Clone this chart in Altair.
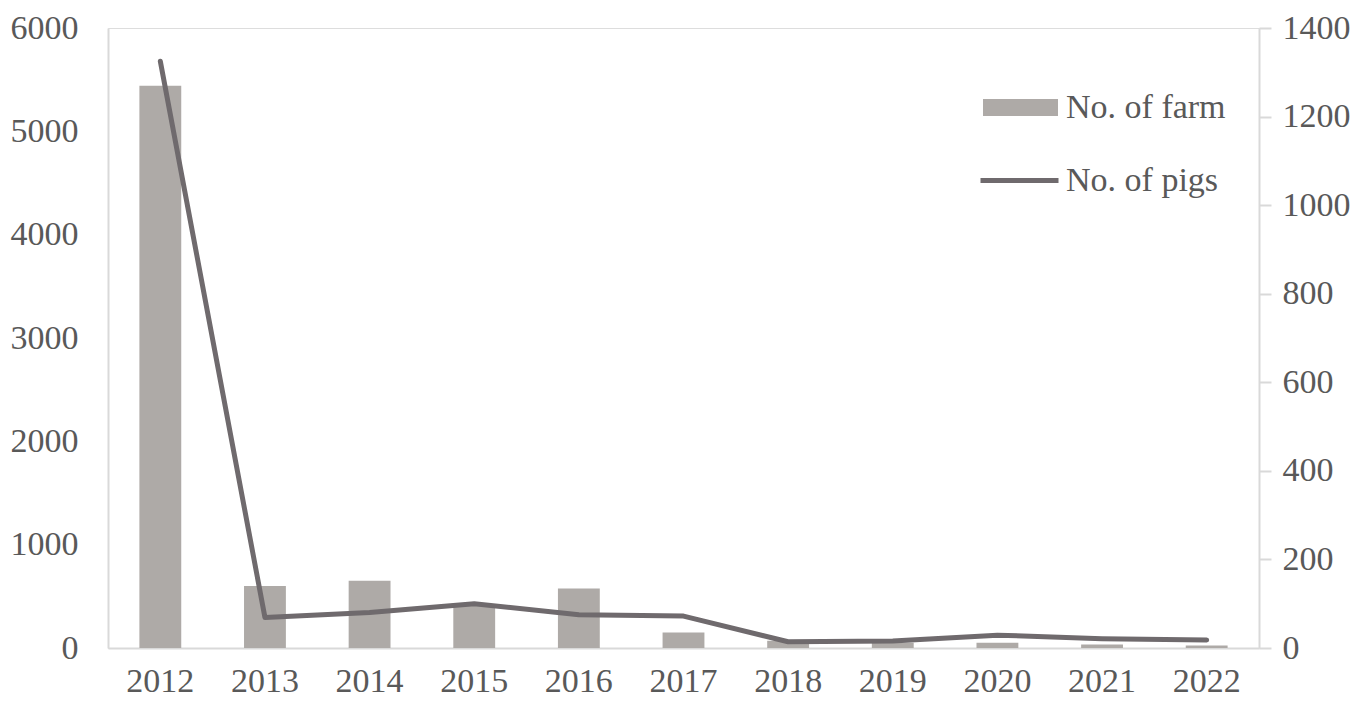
import altair as alt
import pandas as pd

years = ["2012", "2013", "2014", "2015", "2016", "2017", "2018", "2019", "2020", "2021", "2022"]
farms = [5440, 600, 650, 410, 575, 150, 70, 50, 50, 35, 25]
pigs = [1325, 69, 80, 100, 75, 72, 14, 16, 29, 21, 18]

df = pd.DataFrame({"year": years, "farm": farms, "pigs": pigs,
                   "s1": ["No. of farm"] * len(years), "s2": ["No. of pigs"] * len(years)})

FONT = "Liberation Serif"
TXT = "#595959"
AX = "#D9D9D9"
BAR = "#AEAAA7"
LINE = "#6F6A6D"

x = alt.X("year:N", title=None, sort=years,
          scale=alt.Scale(paddingInner=0.6, paddingOuter=0.3),
          axis=alt.Axis(labelAngle=0, ticks=False, domainColor=AX, domainWidth=2,
                        labelFont=FONT, labelFontSize=34, labelColor=TXT, labelPadding=16))

bars = alt.Chart(df).mark_bar(color=BAR).encode(
    x=x,
    y=alt.Y("farm:Q", title=None,
            scale=alt.Scale(domain=[0, 6000]),
            axis=alt.Axis(values=[0, 1000, 2000, 3000, 4000, 5000, 6000], format="d", grid=False, ticks=False,
                          domainColor=AX, domainWidth=2, labelFont=FONT, labelFontSize=34,
                          labelColor=TXT, labelPadding=30, orient="left")),
    fill=alt.Fill("s1:N", title=None,
                  scale=alt.Scale(range=[BAR]),
                  legend=alt.Legend(orient="none", legendX=875, legendY=42, padding=0,
                                    symbolType="M-1,-0.227H1V0.227H-1Z", symbolSize=5625,
                                    symbolStrokeWidth=0, symbolOpacity=1,
                                    labelFont=FONT, labelFontSize=34, labelColor=TXT,
                                    labelOffset=8, labelLimit=400)),
)

line = alt.Chart(df).mark_line(color=LINE, strokeWidth=5, strokeCap="round", strokeJoin="round").encode(
    x=x,
    y=alt.Y("pigs:Q", title=None,
            scale=alt.Scale(domain=[0, 1400]),
            axis=alt.Axis(values=[0, 200, 400, 600, 800, 1000, 1200, 1400], format="d", grid=False, ticks=True,
                          tickColor=AX, tickSize=12, tickWidth=2,
                          domainColor=AX, domainWidth=2, labelFont=FONT, labelFontSize=34,
                          labelColor=TXT, labelPadding=11, orient="right")),
    stroke=alt.Stroke("s2:N", title=None,
                      scale=alt.Scale(range=[LINE]),
                      legend=alt.Legend(orient="none", legendX=870, legendY=111, padding=0,
                                        symbolType="stroke", symbolSize=6084,
                                        symbolStrokeWidth=5, symbolStrokeColor=LINE,
                                        labelFont=FONT, labelFontSize=34, labelColor=TXT,
                                        labelOffset=5, labelLimit=400)),
)

chart = alt.layer(bars, line).resolve_scale(y="independent", fill="independent", stroke="independent").properties(
    width=1151, height=620,
    autosize=alt.AutoSizeParams(type="none"),
    padding={"left": 100, "top": 20, "right": 93, "bottom": 54},
).configure_view(stroke=None).configure(background="white")

chart.save("out.html", embed_options={"renderer": "svg", "actions": False})
